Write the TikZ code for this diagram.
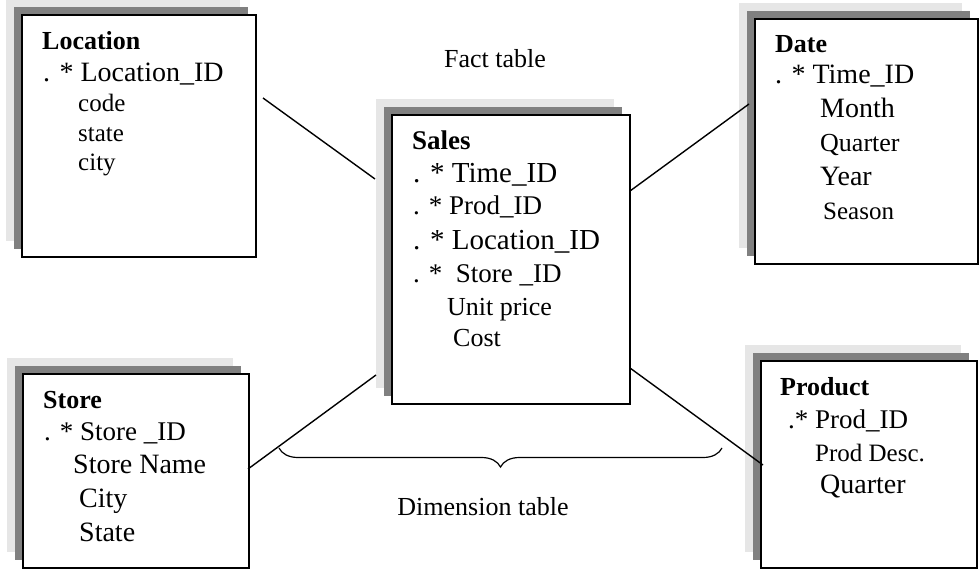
\documentclass[tikz,border=0pt]{standalone}
\usepackage{fontspec}
\setmainfont{Liberation Serif}
\usetikzlibrary{positioning,shadows,decorations.pathreplacing}
\definecolor{shadedark}{RGB}{128,128,128}
\definecolor{shadelight}{RGB}{230,230,230}
\newcommand{\fs}[1]{\fontsize{#1}{#1}\selectfont}
\tikzset{
  tbl/.style={draw=black, line width=2pt, fill=white, anchor=north west, inner sep=0pt,
    copy shadow={shadow xshift=-16pt, shadow yshift=16pt, fill=shadelight, draw=none},
    copy shadow={shadow xshift=-8pt, shadow yshift=8pt, fill=shadedark, draw=none}},
  row/.style={anchor=base west, inner sep=0pt},
  link/.style={line width=1.4pt},
}
\begin{document}
\begin{tikzpicture}[x=1pt, y=-1pt]
\useasboundingbox (0,0) rectangle (979,569);
% tables
\node[tbl, minimum width=234pt, minimum height=242pt] (loc) at (21,14) {};
\node[tbl, minimum width=238pt, minimum height=289pt] (sales) at (391,114) {};
\node[tbl, minimum width=223pt, minimum height=245pt] (date) at (754,18) {};
\node[tbl, minimum width=226pt, minimum height=194pt] (store) at (22,373) {};
\node[tbl, minimum width=216pt, minimum height=207pt] (prod) at (760,360) {};
% Location
\node[row, font=\fs{26}\bfseries] (loc-0) at (42,50) {Location};
\node[row, font=\fs{28}] (loc-1) at (43,82) {. * Location\_ID};
\node[row, font=\fs{25}] (loc-2) at (78,112) {code};
\node[row, font=\fs{25}] (loc-3) at (78,142) {state};
\node[row, font=\fs{25}] (loc-4) at (78,171) {city};
% Sales
\node[row, font=\fs{27}\bfseries] (sales-0) at (412,150) {Sales};
\node[row, font=\fs{29}] (sales-1) at (413,183) {. * Time\_ID};
\node[row, font=\fs{27}] (sales-2) at (413,215) {. * Prod\_ID};
\node[row, font=\fs{29}] (sales-3) at (413,250) {. * Location\_ID};
\node[row, font=\fs{27}] (sales-4) at (413,283) {. *\ \ Store \_ID};
\node[row, font=\fs{26}] (sales-5) at (447,315) {Unit price};
\node[row, font=\fs{26}] (sales-6) at (453,346) {Cost};
% Date
\node[row, font=\fs{26}\bfseries] (date-0) at (775,53) {Date};
\node[row, font=\fs{28}] (date-1) at (775,84) {. * Time\_ID};
\node[row, font=\fs{28}] (date-2) at (820,118) {Month};
\node[row, font=\fs{26}] (date-3) at (820,152) {Quarter};
\node[row, font=\fs{28}] (date-4) at (820,186) {Year};
\node[row, font=\fs{25}] (date-5) at (823,220) {Season};
% Store
\node[row, font=\fs{26}\bfseries] (store-0) at (43,408) {Store};
\node[row, font=\fs{27}] (store-1) at (44,440) {. * Store \_ID};
\node[row, font=\fs{28}] (store-2) at (73,473) {Store Name};
\node[row, font=\fs{28}] (store-3) at (79,507) {City};
\node[row, font=\fs{28}] (store-4) at (79,541) {State};
% Product
\node[row, font=\fs{26}\bfseries] (prod-0) at (780,395) {Product};
\node[row, font=\fs{27}] (prod-1) at (788,428) {.* Prod\_ID};
\node[row, font=\fs{25}] (prod-2) at (815,461) {Prod Desc.};
\node[row, font=\fs{28}] (prod-3) at (820,493) {Quarter};
% captions
\node[anchor=base, inner sep=0pt, font=\fs{26}] (fact) at (495,68) {Fact table};
\node[anchor=base, inner sep=0pt, font=\fs{26}] (dim) at (483,515) {Dimension table};
% links
\coordinate (loc-end) at (263,98);
\coordinate (sales-nw) at (375,179);
\coordinate (sales-ne) at (630,191);
\coordinate (date-end) at (749,104);
\coordinate (store-end) at (248,469);
\coordinate (sales-sw) at (376,375);
\coordinate (sales-se) at (630,368);
\coordinate (prod-end) at (763,465);
\draw[link] (loc-end) -- (sales-nw);
\draw[link] (sales-ne) -- (date-end);
\draw[link] (store-end) -- (sales-sw);
\draw[link] (sales-se) -- (prod-end);
\coordinate (brace-l) at (279,448);
\coordinate (brace-r) at (722,448);
\draw[line width=1.2pt, decorate, decoration={brace, mirror, amplitude=19pt}] (brace-l) -- (brace-r);
\end{tikzpicture}
\end{document}
